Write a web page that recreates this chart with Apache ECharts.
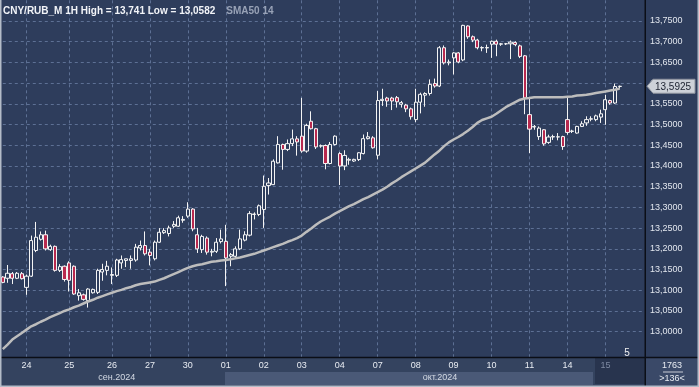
<!DOCTYPE html>
<html><head><meta charset="utf-8">
<script src="https://cdn.jsdelivr.net/npm/echarts@6/dist/echarts.min.js"></script>
<style>html,body{margin:0;padding:0;background:#2e3d5c;}#c{width:699px;height:387px;}</style>
</head><body><div id="c"></div>
<script>
// ---------- DATA ----------
const instrument = 'CNY/RUB_M 1H';
const smaLabel = 'SMA50 14';
const dayLabels = ['24','25','26','27','30','01','02','03','04','07','08','09','10','11','14','15'];
const candlesPerDay = [9,9,8,8,8,8,8,8,8,8,8,8,8,8,8,4];
const leadCandles = 5;   // last candles of 23 Sep
const padCandles = 5;    // empty slots at the right
const monthLabels = ['сен.2024','окт.2024'];
const yMin = 12.95, yMax = 13.80, yStep = 0.05;

const opens = [13.132,13.129,13.140,13.129,13.140,13.107,13.134,13.196,13.223,13.234,13.198,13.206,13.148,13.158,13.166,13.158,13.087,13.089,13.075,13.094,
13.095,13.144,13.148,13.136,13.136,13.166,13.172,13.172,13.173,13.202,13.208,13.192,13.176,13.216,13.239,13.237,13.2545,13.2545,13.269,13.279,
13.296,13.234,13.198,13.226,13.192,13.194,13.2175,13.218,13.182,13.182,13.200,13.221,13.233,13.283,13.283,13.295,13.353,13.355,13.4075,13.452,
13.440,13.454,13.4655,13.472,13.436,13.508,13.490,13.448,13.4495,13.406,13.452,13.430,13.400,13.414,13.412,13.4155,13.430,13.466,13.468,13.426,
13.558,13.564,13.564,13.565,13.549,13.547,13.538,13.512,13.554,13.571,13.575,13.599,13.593,13.6855,13.649,13.661,13.673,13.656,13.738,13.712,
13.704,13.685,13.685,13.694,13.701,13.694,13.695,13.695,13.698,13.690,13.666,13.524,13.494,13.471,13.4875,13.457,13.470,13.470,13.471,13.512,
13.4835,13.4795,13.4955,13.504,13.513,13.512,13.518,13.536,13.558,13.552,13.592];
const closes = [13.119,13.141,13.129,13.141,13.128,13.134,13.220,13.228,13.234,13.200,13.206,13.148,13.157,13.126,13.124,13.091,13.094,13.078,13.103,13.102,
13.148,13.150,13.158,13.138,13.173,13.174,13.176,13.176,13.204,13.208,13.188,13.184,13.216,13.240,13.244,13.2505,13.259,13.275,13.271,13.296,
13.248,13.200,13.230,13.192,13.194,13.216,13.224,13.178,13.186,13.200,13.224,13.234,13.285,13.284,13.304,13.351,13.359,13.4115,13.452,13.440,
13.454,13.4655,13.458,13.436,13.498,13.490,13.446,13.449,13.406,13.452,13.472,13.400,13.4255,13.416,13.416,13.432,13.466,13.4705,13.444,13.558,
13.561,13.557,13.557,13.555,13.553,13.538,13.519,13.554,13.573,13.575,13.597,13.593,13.6855,13.649,13.651,13.673,13.651,13.7395,13.712,13.704,
13.6855,13.686,13.686,13.701,13.694,13.695,13.695,13.699,13.693,13.6645,13.564,13.489,13.4955,13.4915,13.4535,13.470,13.471,13.4705,13.447,13.481,
13.4845,13.4955,13.502,13.512,13.514,13.521,13.526,13.560,13.552,13.592,13.5925];
const lows = [13.117,13.118,13.115,13.127,13.126,13.089,13.132,13.192,13.220,13.196,13.195,13.145,13.144,13.121,13.097,13.089,13.075,13.075,13.0582,13.092,
13.091,13.123,13.136,13.115,13.132,13.152,13.156,13.152,13.169,13.196,13.184,13.160,13.172,13.214,13.236,13.230,13.2505,13.253,13.263,13.275,
13.2425,13.190,13.190,13.186,13.182,13.190,13.213,13.110,13.158,13.178,13.197,13.218,13.230,13.271,13.279,13.2505,13.331,13.354,13.406,13.391,
13.436,13.448,13.425,13.432,13.432,13.488,13.441,13.444,13.392,13.404,13.4495,13.354,13.390,13.403,13.410,13.412,13.428,13.464,13.442,13.416,
13.545,13.543,13.535,13.541,13.541,13.530,13.512,13.506,13.527,13.543,13.570,13.589,13.5905,13.645,13.643,13.621,13.648,13.653,13.707,13.699,
13.6815,13.677,13.673,13.661,13.665,13.690,13.692,13.658,13.689,13.6605,13.525,13.431,13.4875,13.463,13.449,13.4535,13.463,13.462,13.439,13.4755,
13.4795,13.478,13.494,13.497,13.508,13.508,13.504,13.4995,13.548,13.550,13.587];
const highs = [13.134,13.161,13.144,13.144,13.144,13.138,13.232,13.265,13.242,13.244,13.210,13.208,13.163,13.160,13.170,13.160,13.103,13.092,13.105,13.104,
13.152,13.164,13.171,13.155,13.176,13.184,13.176,13.184,13.212,13.220,13.242,13.200,13.220,13.250,13.250,13.256,13.267,13.280,13.279,13.3125,
13.298,13.2505,13.234,13.230,13.200,13.226,13.2465,13.258,13.190,13.206,13.2465,13.2425,13.291,13.288,13.307,13.377,13.371,13.416,13.472,13.454,
13.464,13.488,13.472,13.5645,13.502,13.532,13.492,13.452,13.452,13.458,13.474,13.4335,13.438,13.420,13.4175,13.4335,13.476,13.482,13.472,13.581,
13.5865,13.567,13.567,13.569,13.557,13.550,13.541,13.5865,13.577,13.578,13.609,13.611,13.6895,13.691,13.657,13.675,13.675,13.741,13.7395,13.715,
13.707,13.689,13.693,13.703,13.705,13.697,13.697,13.703,13.701,13.693,13.668,13.564,13.499,13.4955,13.489,13.4755,13.4755,13.4795,13.473,13.564,
13.4875,13.497,13.508,13.520,13.520,13.524,13.536,13.572,13.560,13.599,13.594];
const sma50 = [12.958,12.969,12.981,12.989,12.997,13.005,13.013,13.018,13.024,13.029,13.035,13.040,13.045,13.050,13.054,13.059,13.063,13.068,13.073,13.077,
13.082,13.086,13.090,13.094,13.098,13.101,13.105,13.108,13.112,13.115,13.117,13.119,13.121,13.125,13.129,13.134,13.139,13.144,13.149,13.154,
13.158,13.161,13.163,13.166,13.169,13.170,13.172,13.173,13.175,13.177,13.179,13.182,13.185,13.188,13.192,13.196,13.200,13.204,13.208,13.212,
13.217,13.221,13.226,13.232,13.241,13.249,13.258,13.266,13.272,13.278,13.285,13.291,13.297,13.303,13.308,13.314,13.320,13.325,13.331,13.337,
13.343,13.350,13.358,13.365,13.373,13.380,13.387,13.394,13.401,13.408,13.418,13.428,13.437,13.448,13.457,13.464,13.470,13.477,13.485,13.494,
13.504,13.511,13.515,13.519,13.526,13.534,13.542,13.548,13.554,13.560,13.563,13.564,13.566,13.566,13.566,13.566,13.566,13.566,13.566,13.567,
13.568,13.570,13.571,13.572,13.574,13.576,13.578,13.580,13.582,13.584,13.587];
const footerCount = '1763';

// ---------- BUILD ----------
const FONT = '"Liberation Sans", Arial, sans-serif';
const BG = '#2e3d5c';
const GRIDC = '#5d7094';
const categories = [], isDayStart = [];
for (let k = 0; k < leadCandles; k++) { categories.push('23|' + (k + 1)); isDayStart.push(false); }
dayLabels.forEach((d, di) => { for (let k = 0; k < candlesPerDay[di]; k++) { categories.push(d + '|' + k); isDayStart.push(k === 0); } });
for (let k = 0; k < padCandles; k++) { categories.push('pad|' + (k + 1)); isDayStart.push(false); }
const candleData = opens.map((o, i) => [o, closes[i], lows[i], highs[i]]);
const fmt = v => String(v).replace('.', ',');
const hi = Math.max(...highs), lo = Math.min(...lows);
const lastClose = closes[closes.length - 1];

const chart = echarts.init(document.getElementById('c'));
const L = 2.8, R = 55.6;
chart.setOption({
  animation: false,
  backgroundColor: BG,
  title: {
    left: 3, top: 2, padding: 0,
    text: '{a|' + instrument + ' High = ' + fmt(hi) + ' Low = ' + fmt(lo) + '}{g|}{b|' + smaLabel + '}',
    textStyle: { rich: {
      a: { color: '#f2f4f8', fontSize: 10, fontFamily: FONT },
      g: { width: 11 },
      b: { color: '#98a2b6', fontSize: 10, fontFamily: FONT }
    } }
  },
  grid: [
    { left: L, right: R, top: 0.3, bottom: 34.6 },
    { left: L, right: R, top: 0.3, bottom: 30 }
  ],
  xAxis: [
    { type: 'category', gridIndex: 0, data: categories, boundaryGap: false, offset: 4.6,
      axisLine: { show: false }, axisTick: { show: false }, splitLine: { show: false },
      axisLabel: { interval: (i) => isDayStart[i], formatter: v => v.split('|')[0], margin: 4,
        fontSize: 9, fontFamily: FONT,
        color: (v) => (String(v).split('|')[0] === '15' ? '#7e8aa2' : '#e8ecf2') } },
    { type: 'category', gridIndex: 1, data: categories, boundaryGap: false,
      axisLine: { show: false }, axisTick: { show: false }, axisLabel: { show: false },
      splitLine: { show: true, interval: (i) => isDayStart[i], lineStyle: { color: GRIDC, type: [3, 3], width: 1 } } }
  ],
  yAxis: [
    { type: 'value', gridIndex: 0, position: 'right', min: yMin, max: yMax, interval: yStep,
      axisLine: { show: false }, axisTick: { show: false },
      axisLabel: { margin: 6.5, fontSize: 9, fontFamily: FONT, color: '#e2e6ee',
        showMinLabel: false, showMaxLabel: false, formatter: v => v.toFixed(4).replace('.', ',') },
      splitLine: { show: true, showMinLine: false, showMaxLine: false, lineStyle: { color: GRIDC, type: [3, 3], width: 1 } } },
    { type: 'value', gridIndex: 1, show: false }
  ],
  series: [
    { type: 'candlestick', xAxisIndex: 0, yAxisIndex: 0, data: candleData, barWidth: 3.6, clip: false,
      itemStyle: { color: BG, color0: '#b8294f', borderColor: '#f4f4f4', borderColor0: '#f4f4f4', borderWidth: 1 },
      emphasis: { disabled: true }, silent: true },
    { type: 'line', xAxisIndex: 0, yAxisIndex: 0, data: sma50, symbol: 'none', silent: true, z: 3,
      lineStyle: { color: '#bdbdbd', width: 2.5 } }
  ]
});

const yTag = chart.convertToPixel({ yAxisIndex: 0 }, lastClose);
const T = (text, x, y, color, size, align) => ({ type: 'text', x: x, y: y, z: 20, silent: true,
  style: { text: text, fill: color, font: size + 'px ' + FONT, align: align || 'center', verticalAlign: 'middle',
           textAlign: align || 'center', textVerticalAlign: 'middle' } });
const Rc = (x, y, w, h, fill, z) => ({ type: 'rect', z: z, silent: true, shape: { x: x, y: y, width: w, height: h }, style: { fill: fill } });
chart.setOption({
  graphic: [
    Rc(0, 357, 645, 30, '#34435f', -5),
    Rc(225, 372, 368, 13, '#4a5977', -4),
    Rc(595, 358, 50, 26, '#28344e', -4),
    Rc(645, 357, 54, 30, '#3a4968', -4),
    Rc(0, 356.8, 699, 1.5, '#0b0e16', 10),
    Rc(644.5, 0, 1.5, 387, '#0b0e16', 10),
    Rc(0, 0, 1.5, 387, '#b4bcc8', 12),
    Rc(697.5, 0, 1.5, 387, '#b4bcc8', 12),
    Rc(0, 385.5, 699, 1.5, '#b4bcc8', 12),
    T(monthLabels[0], 116.7, 378, '#d4dae4', 9),
    T(monthLabels[1], 440, 378, '#d4dae4', 9),
    T('5', 627, 353, '#f0f0f0', 10),
    T(footerCount, 672, 365.5, '#e8ecf2', 9),
    Rc(663, 371.5, 20, 1, '#c8cdd6', 12),
    T('>' + categories.length + '<', 672, 378.5, '#e8ecf2', 9),
    { type: 'polygon', z: 15, silent: true,
      shape: { points: [[647, yTag], [653, yTag - 7], [695, yTag - 7], [695, yTag + 7], [653, yTag + 7]] },
      style: { fill: '#cdd1d8', stroke: '#8d939d', lineWidth: 1 } },
    T(fmt(lastClose), 673, yTag + 0.5, '#1c2230', 10)
  ]
});
</script>
</body></html>
